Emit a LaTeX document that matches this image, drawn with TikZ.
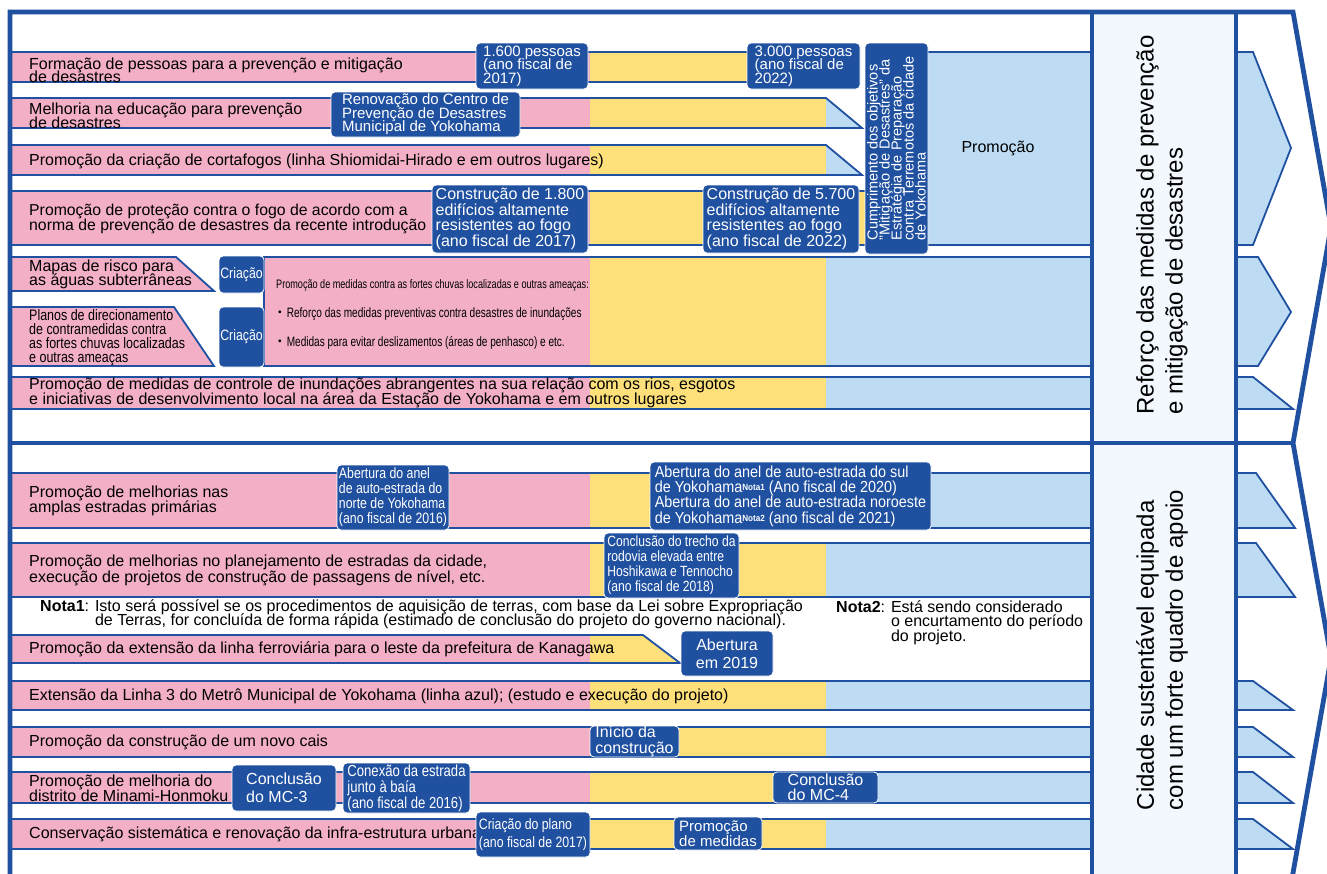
\documentclass[tikz,border=0pt]{standalone}
\usepackage{fontspec}
\setmainfont{Liberation Sans}
\newfontfamily\estreita[FakeStretch=0.82]{Liberation Sans}
\newfontfamily\estreitissima[FakeStretch=0.74]{Liberation Sans}
\newfontfamily\media[FakeStretch=0.9]{Liberation Sans}
\newfontfamily\cjk{Noto Sans CJK JP}

\definecolor{azulesc}{RGB}{32,80,160}
\definecolor{rosa}{RGB}{243,175,197}
\definecolor{amarelo}{RGB}{254,224,122}
\definecolor{celeste}{RGB}{189,220,243}
\definecolor{palido}{RGB}{242,248,253}

\newcommand\fs[2]{\fontsize{#1}{#2}\selectfont\lineskiplimit=-50pt\relax}
\newcommand\notinha[1]{\raisebox{1.5pt}{\bfseries\fontsize{9}{9}\selectfont #1}}

\tikzset{
  borda/.style={draw=azulesc, line width=1.8pt},
  moldura/.style={draw=azulesc, line width=4.8pt},
  caixa/.style={fill=azulesc, draw=white, line width=0.8pt, rounded corners=4pt,
    text=white, inner sep=0pt, align=left},
  rotulo/.style={anchor=west, inner sep=0pt, align=left, font=\fs{16}{15}},
}

\begin{document}
\begin{tikzpicture}[x=1pt, y=-1pt]
    \useasboundingbox (0,0) rectangle (1327,873);
    \clip (0,0) rectangle (1327,873);

    % Coluna
    \fill[palido] (1092,12) rectangle (1236,880);

    % Faixas superiores
    \fill[rosa] (12,52) rectangle (590,82);
    \fill[amarelo] (590,52) rectangle (760,82);
    \draw[borda] (12,52) -- (760,52) (12,82) -- (760,82);

    \fill[celeste] (880,52) rectangle (1092,245);
    \draw[borda] (880,52) -- (1092,52) (880,245) -- (1092,245);

    \fill[rosa] (12,98) rectangle (590,128);
    \fill[amarelo] (590,98) rectangle (826,128);
    \fill[celeste] (826,98) -- (862,128) -- (826,128) -- cycle;
    \draw[borda] (12,98) -- (826,98) -- (862,128) -- (12,128);

    \fill[rosa] (12,145) rectangle (590,175);
    \fill[amarelo] (590,145) rectangle (826,175);
    \fill[celeste] (826,145) -- (862,175) -- (826,175) -- cycle;
    \draw[borda] (12,145) -- (826,145) -- (862,175) -- (12,175);

    \fill[rosa] (12,191) rectangle (590,245);
    \fill[amarelo] (590,191) rectangle (866,245);
    \draw[borda] (12,191) -- (866,191) (12,245) -- (866,245);

    \draw[borda, fill=rosa] (12,257) -- (176,257) -- (214,291) -- (12,291);
    \draw[borda, fill=rosa] (12,307) -- (174,307) -- (214,366) -- (12,366);

    \fill[rosa] (264,257) rectangle (590,366);
    \fill[amarelo] (590,257) rectangle (826,366);
    \fill[celeste] (826,257) rectangle (1092,366);
    \draw[borda] (1092,257) -- (264,257) -- (264,366) -- (1092,366);

    \fill[rosa] (12,377) rectangle (590,409);
    \fill[amarelo] (590,377) rectangle (826,409);
    \fill[celeste] (826,377) rectangle (1092,409);
    \draw[borda] (12,377) -- (1092,377) (12,409) -- (1092,409);

    % Setas superiores
    \draw[borda, fill=celeste] (1238,52) -- (1253,52) -- (1291,148) -- (1253,245) -- (1238,245);
    \draw[borda, fill=celeste] (1238,257) -- (1258,257) -- (1291,312) -- (1258,366) -- (1238,366);
    \draw[borda, fill=celeste] (1238,377) -- (1253,377) -- (1293,409) -- (1238,409);

    % Faixas inferiores
    \fill[rosa] (12,473) rectangle (590,528);
    \fill[amarelo] (590,473) rectangle (800,528);
    \fill[celeste] (800,473) rectangle (1092,528);
    \draw[borda] (12,473) -- (1092,473) (12,528) -- (1092,528);

    \fill[rosa] (12,543) rectangle (590,597);
    \fill[amarelo] (590,543) rectangle (826,597);
    \fill[celeste] (826,543) rectangle (1092,597);
    \draw[borda] (12,543) -- (1092,543) (12,597) -- (1092,597);

    \fill[rosa] (12,635) rectangle (590,663);
    \fill[amarelo] (590,635) -- (643,635) -- (680,663) -- (590,663) -- cycle;
    \draw[borda] (12,635) -- (643,635) -- (680,663) -- (12,663);

    \fill[rosa] (12,681) rectangle (590,710);
    \fill[amarelo] (590,681) rectangle (826,710);
    \fill[celeste] (826,681) rectangle (1092,710);
    \draw[borda] (12,681) -- (1092,681) (12,710) -- (1092,710);

    \fill[rosa] (12,727) rectangle (590,757);
    \fill[amarelo] (590,727) rectangle (826,757);
    \fill[celeste] (826,727) rectangle (1092,757);
    \draw[borda] (12,727) -- (1092,727) (12,757) -- (1092,757);

    \fill[rosa] (12,772) rectangle (590,803);
    \fill[amarelo] (590,772) rectangle (800,803);
    \fill[celeste] (800,772) rectangle (1092,803);
    \draw[borda] (12,772) -- (1092,772) (12,803) -- (1092,803);

    \fill[rosa] (12,819) rectangle (590,849);
    \fill[amarelo] (590,819) rectangle (826,849);
    \fill[celeste] (826,819) rectangle (1092,849);
    \draw[borda] (12,819) -- (1092,819) (12,849) -- (1092,849);

    % Setas inferiores
    \draw[borda, fill=celeste] (1238,473) -- (1256,473) -- (1295,528) -- (1238,528);
    \draw[borda, fill=celeste] (1238,543) -- (1256,543) -- (1295,597) -- (1238,597);
    \draw[borda, fill=celeste] (1238,681) -- (1253,681) -- (1293,710) -- (1238,710);
    \draw[borda, fill=celeste] (1238,727) -- (1253,727) -- (1293,757) -- (1238,757);
    \draw[borda, fill=celeste] (1238,772) -- (1253,772) -- (1293,803) -- (1238,803);
    \draw[borda, fill=celeste] (1238,819) -- (1253,819) -- (1293,849) -- (1238,849);

    % Textos das faixas
    \node[rotulo, font=\fs{16}{13.5}] (formacao) at (29,70.5) {Formação de pessoas para a prevenção e mitigação\\de desastres};
    \node[rotulo, font=\fs{16}{14}] (educacao) at (29,115.5) {Melhoria na educação para prevenção\\de desastres};
    \node[rotulo] (cortafogos) at (29,161) {Promoção da criação de cortafogos (linha Shiomidai-Hirado e em outros lugares)};
    \node[rotulo, font=\fs{15.8}{15}] (protecao) at (29,218.5) {Promoção de proteção contra o fogo de acordo com a\\norma de prevenção de desastres da recente introdução};
    \node[rotulo, font=\fs{16}{14}] (mapas) at (29,274.5) {Mapas de risco para\\as águas subterrâneas};
    \node[rotulo, font=\estreita\fs{15.2}{14.2}] (planos) at (29,337.5) {Planos de direcionamento\\de contramedidas contra\\as fortes chuvas localizadas\\e outras ameaças};
    \node[rotulo, font=\estreitissima\fs{12.3}{12}] (chuvas) at (276,285) {Promoção de medidas contra as fortes chuvas localizadas e outras ameaças:};
    \node[rotulo, font=\estreitissima\fs{13.6}{13}] (reforco) at (273,314) {{\cjk ・}Reforço das medidas preventivas contra desastres de inundações};
    \node[rotulo, font=\estreitissima\fs{13.6}{13}] (deslizes) at (273,343) {{\cjk ・}Medidas para evitar deslizamentos (áreas de penhasco) e etc.};
    \node[rotulo] (inundacoes) at (29,392.5) {Promoção de medidas de controle de inundações abrangentes na sua relação com os rios, esgotos\\e iniciativas de desenvolvimento local na área da Estação de Yokohama e em outros lugares};
    \node[font=\fs{16}{16}] (promocao) at (998,148) {Promoção};

    \node[rotulo] (estradas) at (29,500.5) {Promoção de melhorias nas\\amplas estradas primárias};
    \node[rotulo, font=\fs{16}{16}] (planejamento) at (29,570) {Promoção de melhorias no planejamento de estradas da cidade,\\execução de projetos de construção de passagens de nível, etc.};
    \node[rotulo] (ferrovia) at (29,649) {Promoção da extensão da linha ferroviária para o leste da prefeitura de Kanagawa};
    \node[rotulo] (metro) at (29,696) {Extensão da Linha 3 do Metrô Municipal de Yokohama (linha azul); (estudo e execução do projeto)};
    \node[rotulo] (cais) at (29,742) {Promoção da construção de um novo cais};
    \node[rotulo] (honmoku) at (29,788.5) {Promoção de melhoria do\\distrito de Minami-Honmoku};
    \node[rotulo] (infra) at (29,834) {Conservação sistemática e renovação da infra-estrutura urbana};

    % Notas
    \node[anchor=base west, inner sep=0pt, font=\fs{16}{14}] (nota1) at (40,611)
        {\textbf{Nota1}: \vtop{\hbox{Isto será possível se os procedimentos de aquisição de terras, com base da Lei sobre Expropriação}\hbox{de Terras, for concluída de forma rápida (estimado de conclusão do projeto do governo nacional).}}};
    \node[anchor=base west, inner sep=0pt, font=\fs{16}{14.5}] (nota2) at (836,612)
        {\textbf{Nota2}: \vtop{\hbox{Está sendo considerado}\hbox{o encurtamento do período}\hbox{do projeto.}}};

    % Caixas
    \node[caixa, font=\fs{15}{13.5}, minimum width=112, minimum height=46] (p1600) at (532,66) {1.600 pessoas\\(ano fiscal de\\2017)};
    \node[caixa, font=\fs{15}{13.5}, minimum width=113, minimum height=46] (p3000) at (803.5,66) {3.000 pessoas\\(ano fiscal de\\2022)};
    \node[caixa, font=\fs{15}{13.5}, minimum width=189, minimum height=45] (renovacao) at (425.5,114.5) {Renovação do Centro de\\Prevenção de Desastres\\Municipal de Yokohama};
    \node[caixa, font=\fs{16}{15.6}, minimum width=156, minimum height=68] (ed1800) at (510,219) {Construção de 1.800\\edifícios altamente\\resistentes ao fogo\\(ano fiscal de 2017)};
    \node[caixa, font=\fs{16}{15.6}, minimum width=156, minimum height=68] (ed5700) at (781,219) {Construção de 5.700\\edifícios altamente\\resistentes ao fogo\\(ano fiscal de 2022)};
    \node[caixa, rotate=90, font=\fs{14.5}{12}, minimum width=211, minimum height=63] (cumprimento) at (896.5,148.5)
        {Cumprimento dos objetivos\\"Mitigação de Desastres" da\\Estratégia de Preparação\\contra Terremotos da cidade\\de Yokohama};
    \node[caixa, font=\estreita\fs{15}{15}, minimum width=45, minimum height=37] (criacao1) at (241.5,274.5) {Criação};
    \node[caixa, font=\estreita\fs{15}{15}, minimum width=45, minimum height=60] (criacao2) at (241.5,337) {Criação};

    \node[caixa, font=\estreita\fs{15}{15}, minimum width=112, minimum height=65] (norte) at (393,497.5) {Abertura do anel\\de auto-estrada do\\norte de Yokohama\\(ano fiscal de 2016)};
    \node[caixa, font=\media\fs{16}{15.3}, minimum width=281, minimum height=68] (sul) at (790.5,496)
        {Abertura do anel de auto-estrada do sul\\de Yokohama\notinha{Nota1} (Ano fiscal de 2020)\\Abertura do anel de auto-estrada noroeste\\de Yokohama\notinha{Nota2} (ano fiscal de 2021)};
    \node[caixa, font=\estreita\fs{14.8}{15}, minimum width=135, minimum height=65] (hoshikawa) at (671.5,565.5) {Conclusão do trecho da\\rodovia elevada entre\\Hoshikawa e Tennocho\\(ano fiscal de 2018)};
    \node[caixa, font=\fs{16}{18}, align=center, minimum width=92, minimum height=45] (ab2019) at (727,653.5) {Abertura\\em 2019};
    \node[caixa, font=\fs{16}{15.5}, minimum width=89, minimum height=31] (inicio) at (634.5,741.5) {Início da\\construção};
    \node[caixa, font=\fs{16}{18}, minimum width=104, minimum height=46] (mc3) at (284,788) {Conclusão\\do MC-3};
    \node[caixa, font=\estreita\fs{16}{16}, minimum width=127, minimum height=50] (conexao) at (406.5,788) {Conexão da estrada\\junto à baía\\(ano fiscal de 2016)};
    \node[caixa, font=\fs{16}{14.5}, minimum width=105, minimum height=31] (mc4) at (825.5,787.5) {Conclusão\\do MC-4};
    \node[caixa, font=\estreita\fs{15}{18}, minimum width=114, minimum height=45] (plano) at (533,834.5) {Criação do plano\\(ano fiscal de 2017)};
    \node[caixa, font=\fs{15}{15}, minimum width=88, minimum height=33] (medidas) at (718,833.5) {Promoção\\de medidas};

    % Moldura
    \draw[moldura] (10,880) -- (10,12) -- (1293,12) -- (1331,227) -- (1293,443) -- (1331,658) -- (1293,873) -- (1290,890);
    \draw[moldura] (10,443) -- (1293,443);
    \draw[moldura] (1092,12) -- (1092,880);
    \draw[moldura] (1236,12) -- (1236,880);

    % Eixos
    \node[rotate=90, align=left, font=\fs{24}{29}] (eixo1) at (1162,225) {Reforço das medidas de prevenção\\e mitigação de desastres};
    \node[rotate=90, align=left, font=\fs{24}{29}] (eixo2) at (1162,650) {Cidade sustentável equipada\\com um forte quadro de apoio};

\end{tikzpicture}
\end{document}
